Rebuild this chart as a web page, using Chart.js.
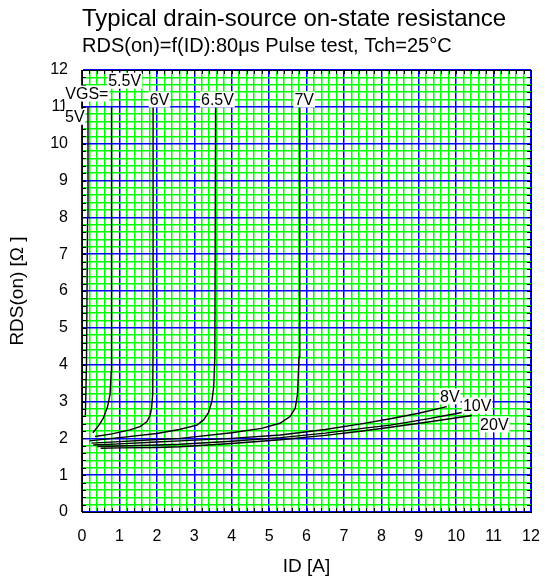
<!DOCTYPE html>
<html>
<head>
<meta charset="utf-8">
<script src="https://cdn.jsdelivr.net/npm/chart.js@4/dist/chart.umd.min.js"></script>
<style>
  html, body { margin: 0; padding: 0; background: #fff; }
</style>
</head>
<body>
<canvas id="chart" width="545" height="578"></canvas>
<script>
const FONT = '"Liberation Sans", Arial, sans-serif';

// gate voltages, one curve each
const VGS_LABELS = ['5V', '5.5V', '6V', '6.5V', '7V', '8V', '10V', '20V'];

// ID [A] / RDS(on) [ohm]
const ID_5V = [0.09, 0.12, 0.15, 0.16];
const R_5V = [2.62, 4.0, 8.0, 11.0];

const ID_55V = [0.29, 0.45, 0.57, 0.68, 0.75, 0.78, 0.79, 0.79];
const R_55V = [2.15, 2.35, 2.55, 2.85, 3.2, 3.8, 5.0, 11.0];

const ID_6V = [0.35, 0.8, 1.28, 1.55, 1.73, 1.82, 1.86, 1.89, 1.9, 1.9];
const R_6V = [2.05, 2.12, 2.23, 2.32, 2.45, 2.62, 2.82, 3.2, 4.5, 11.0];

const ID_65V = [0.2, 1.0, 2.0, 2.6, 3.07, 3.25, 3.38, 3.47, 3.52, 3.55, 3.57];
const R_65V = [1.93, 2.02, 2.13, 2.24, 2.36, 2.5, 2.7, 3.0, 3.4, 4.2, 11.0];

const ID_7V = [0.25, 1, 2, 2.62, 3, 4, 4.8, 5.29, 5.56, 5.7, 5.76, 5.8, 5.82];
const R_7V = [1.87, 1.91, 1.97, 2.0, 2.04, 2.15, 2.27, 2.41, 2.59, 2.82, 3.2, 4.2, 11.0];

const ID_8V = [0.3, 1, 2, 2.62, 4, 5.3, 6.5, 7.5, 8.24, 9, 9.75];
const R_8V = [1.82, 1.85, 1.9, 1.93, 2.0, 2.09, 2.24, 2.4, 2.53, 2.68, 2.86];

const ID_10V = [0.4, 1, 2, 2.62, 4, 5.3, 6.5, 7.5, 8.24, 9.2, 10.15];
const R_10V = [1.78, 1.79, 1.82, 1.84, 1.92, 2.02, 2.14, 2.27, 2.36, 2.52, 2.7];

const ID_20V = [0.5, 1, 2, 2.62, 4, 5.3, 6.5, 7.5, 8.24, 9.3, 10.42];
const R_20V = [1.73, 1.74, 1.75, 1.77, 1.86, 1.96, 2.08, 2.2, 2.3, 2.45, 2.62];

const SERIES_ID = [ID_5V, ID_55V, ID_6V, ID_65V, ID_7V, ID_8V, ID_10V, ID_20V];
const SERIES_R = [R_5V, R_55V, R_6V, R_65V, R_7V, R_8V, R_10V, R_20V];

// curve annotations (text and data position)
const NOTE_TEXT = ['VGS=', '5V', '5.5V', '6V', '6.5V', '7V', '8V', '10V', '20V'];
const NOTE_ID = [0.13, -0.19, 1.14, 2.07, 3.62, 5.94, 9.83, 10.56, 11.02];
const NOTE_R = [11.36, 10.73, 11.71, 11.2, 11.2, 11.2, 3.14, 2.89, 2.38];

const AXIS_MIN = 0;
const AXIS_MAX = 12;
const MINOR_STEP = 0.2;

const isWhole = v => Math.abs(v - Math.round(v)) < 1e-6;

function toPoints(xs, ys) {
    return xs.map((x, i) => ({ x, y: ys[i] }));
}

const datasets = VGS_LABELS.map((label, i) => ({
    label,
    data: toPoints(SERIES_ID[i], SERIES_R[i]),
    borderColor: '#000',
    borderWidth: 1.4,
    pointRadius: 0,
    tension: 0,
    fill: false,
}));

// closed frame with small inward ticks
const frame = {
    id: 'frame',
    afterDatasetsDraw(chart) {
        const { ctx, chartArea: a, scales: { x, y } } = chart;
        ctx.save();
        ctx.strokeStyle = '#000';
        ctx.lineWidth = 1;
        ctx.beginPath();
        for (let v = AXIS_MIN; v <= AXIS_MAX + 1e-9; v += MINOR_STEP) {
            const px = Math.round(x.getPixelForValue(v)) + 0.5;
            ctx.moveTo(px, a.top); ctx.lineTo(px, a.top + 4);
            ctx.moveTo(px, a.bottom); ctx.lineTo(px, a.bottom - 4);
            const py = Math.round(y.getPixelForValue(v)) + 0.5;
            ctx.moveTo(a.left, py); ctx.lineTo(a.left + 4, py);
            ctx.moveTo(a.right, py); ctx.lineTo(a.right - 4, py);
        }
        ctx.stroke();
        ctx.strokeRect(Math.round(a.left) + 0.5, Math.round(a.top) + 0.5,
            Math.round(a.right - a.left), Math.round(a.bottom - a.top));
        ctx.restore();
    },
};

const notes = {
    id: 'notes',
    afterDraw(chart) {
        const { ctx, scales: { x, y } } = chart;
        ctx.save();
        ctx.font = '16px ' + FONT;
        ctx.textAlign = 'center';
        ctx.textBaseline = 'middle';
        NOTE_TEXT.forEach((t, i) => {
            const px = x.getPixelForValue(NOTE_ID[i]);
            const py = y.getPixelForValue(NOTE_R[i]);
            const w = ctx.measureText(t).width;
            ctx.fillStyle = '#fff';
            ctx.fillRect(px - w / 2 - 1, py - 8, w + 2, 16);
            ctx.fillStyle = '#000';
            ctx.fillText(t, px, py + 1);
        });
        ctx.restore();
    },
};

function gridColor(c) {
    return isWhole(c.tick.value) ? '#0000ff' : '#00ff00';
}

function axis(title, horizontal) {
    return {
        type: 'linear',
        min: AXIS_MIN,
        max: AXIS_MAX,
        border: { display: true, color: '#000' },
        grid: {
            color: gridColor,
            lineWidth: 1.5,
            drawTicks: true,
            tickLength: horizontal ? 10 : 9,
            tickColor: 'rgba(0,0,0,0)',
        },
        ticks: {
            stepSize: MINOR_STEP,
            autoSkip: false,
            maxRotation: 0,
            padding: 5,
            color: '#000',
            font: { family: FONT, size: 16 },
            callback: v => (isWhole(v) ? String(Math.round(v)) : ''),
        },
        title: {
            display: true,
            text: title,
            color: '#000',
            font: { family: FONT, size: 19 },
            padding: horizontal ? { top: 0, bottom: 0 } : { top: 6, bottom: 0 },
        },
        afterFit(scale) {
            if (horizontal) scale.height = 66;
            else scale.width = 82;
        },
    };
}

new Chart(document.getElementById('chart'), {
    type: 'line',
    data: { datasets },
    options: {
        responsive: false,
        animation: false,
        layout: { padding: { left: 0, right: 14, top: 0, bottom: 0 } },
        scales: {
            x: axis('ID [A]', true),
            y: axis('RDS(on) [Ω ]', false),
        },
        plugins: {
            legend: { display: false },
            tooltip: { enabled: false },
            title: {
                display: true,
                fullSize: false,
                align: 'start',
                text: 'Typical drain-source on-state resistance',
                color: '#000',
                font: { family: FONT, size: 24, weight: 'normal' },
                padding: { top: 5, bottom: 0 },
            },
            subtitle: {
                display: true,
                fullSize: false,
                align: 'start',
                text: 'RDS(on)=f(ID):80μs Pulse test, Tch=25°C',
                color: '#000',
                font: { family: FONT, size: 20 },
                padding: { top: 1, bottom: 11.2 },
            },
        },
    },
    plugins: [frame, notes],
});
</script>
</body>
</html>
